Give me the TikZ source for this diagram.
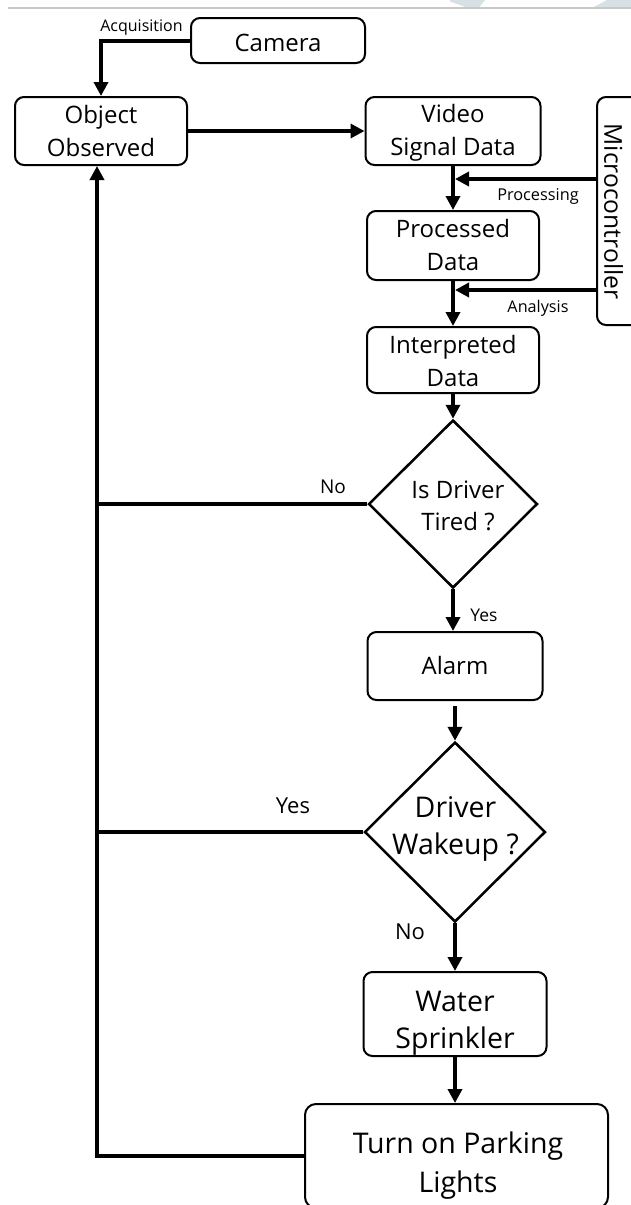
\documentclass[tikz,border=0pt]{standalone}
\usepackage{fontspec}
\setmainfont{Open Sans}
\usetikzlibrary{arrows.meta,shapes.geometric}
\newcommand{\fsz}[2]{\fontsize{#1pt}{#2pt}\selectfont}
\definecolor{wm}{RGB}{214,224,229}
\definecolor{topline}{RGB}{200,200,200}
\tikzset{
  box/.style={draw, line width=2pt, rounded corners=9pt, align=center, inner sep=0pt, text depth=0pt, font=\fsz{24}{33}},
  bigbox/.style={box, font=\fsz{28.5}{37}},
  dec/.style={draw, diamond, line width=2.5pt, inner sep=0pt},
  txt/.style={align=center, inner sep=0pt, text depth=0pt, anchor=base},
  lbl/.style={inner sep=0pt, anchor=base},
  arr/.style={line width=4pt, -{Triangle[length=14pt,width=14pt]}},
  ln/.style={line width=4pt}
}
\begin{document}
\begin{tikzpicture}[x=1pt,y=-1pt]
\useasboundingbox (0,0) rectangle (631,1205);
\fill[white] (0,0) rectangle (631,1205);
\begin{scope}
\clip (0,0) rectangle (631,1205);
% top decoration
\fill[wm] (450,0) -- (450,1.5) .. controls (458,5) .. (467,7.5) -- (479,7.5) .. controls (482,4) .. (485,0) -- cycle;
\fill[wm] (593,7.5) .. controls (600,3) .. (607,0) -- (631,0) -- (631,7.5) -- cycle;
\draw[topline, line width=1.5pt] (8,8) -- (631,8);

% boxes
\node[box, minimum width=174pt, minimum height=45pt, text height=22.4pt] (cam) at (278,40.5) {Camera};
\node[box, minimum width=172pt, minimum height=68pt, text height=50pt] (obj) at (101,131) {Object\\Observed};
\node[box, minimum width=175pt, minimum height=68pt, text height=48pt] (vid) at (453,131) {Video\\Signal Data};
\node[box, minimum width=172pt, minimum height=69pt, text height=49pt] (proc) at (453,245.5) {Processed\\Data};
\node[box, minimum width=172pt, minimum height=66pt, text height=52pt] (interp) at (453,360) {Interpreted\\Data};
\node[box, minimum width=175pt, minimum height=68pt, text height=16pt] (alarm) at (455,666) {Alarm};
\node[bigbox, minimum width=183pt, minimum height=84pt, text height=68pt] (water) at (455,1014) {Water\\Sprinkler};
\node[draw, line width=2pt, rounded corners=11pt, minimum width=303pt, minimum height=104pt] (turn) at (456.5,1156) {};
\node[txt, font=\fsz{28.5}{39}] (turntxt) at (458,1192) {Turn on Parking\\Lights};

% microcontroller
\node[draw, line width=2pt, rounded corners=9pt, minimum width=48pt, minimum height=228pt] (micro) at (621,211) {};
\node[inner sep=0pt, rotate=-90, font=\fsz{24.6}{30}] (microtxt) at (613.5,211.5) {Microcontroller};

% decisions
\node[dec, minimum width=169pt, minimum height=168pt] (D1) at (453,504) {};
\node[txt, font=\fsz{24}{32}] (D1t) at (458,530) {Is Driver\\Tired ?};
\node[dec, minimum width=181pt, minimum height=180pt] (D2) at (455,832) {};
\node[txt, font=\fsz{28.5}{37}] (D2t) at (455.5,854) {Driver\\Wakeup ?};

% helper coordinates
\coordinate (pin) at (455,179);
\coordinate (ain) at (455,290);
\coordinate (L1) at (97,504);
\coordinate (L2) at (97,832);

% connectors
\draw[arr] (cam.west) -| (obj.north);
\draw[arr] (obj.east) -- (vid.west);
\draw[arr] (micro.west |- pin) -- (pin);
\draw[arr] (vid.south) -- (proc.north);
\draw[arr] (micro.west |- ain) -- (ain);
\draw[arr] (proc.south) -- (interp.north);
\draw[arr] (interp.south) -- (D1.north);
\draw[ln] (D1.west) -- (L1);
\draw[arr] (D1.south) -- (D1.south |- alarm.north);
\draw[arr, shorten <=5pt] (alarm.south) -- (D2.north);
\draw[ln] (D2.west) -- (L2);
\draw[arr] (D2.south) -- (water.north);
\draw[arr] (water.south) -- (water.south |- turn.north);
\draw[arr] (turn.west) -| ([xshift=-4pt]obj.south);

% labels
\node[lbl, font=\fsz{16}{19}] (lacq) at (141.5,31) {Acquisition};
\node[lbl, font=\fsz{16.3}{19}] (lproc) at (538,200) {Processing};
\node[lbl, font=\fsz{16.2}{19}] (lana) at (538,312) {Analysis};
\node[lbl, font=\fsz{19}{22}] (lno1) at (333,493) {No};
\node[lbl, font=\fsz{17.5}{20}] (lyes1) at (484,621) {Yes};
\node[lbl, font=\fsz{22}{26}] (lyes2) at (293,813) {Yes};
\node[lbl, font=\fsz{22}{26}] (lno2) at (410,939) {No};
\end{scope}
\end{tikzpicture}
\end{document}
